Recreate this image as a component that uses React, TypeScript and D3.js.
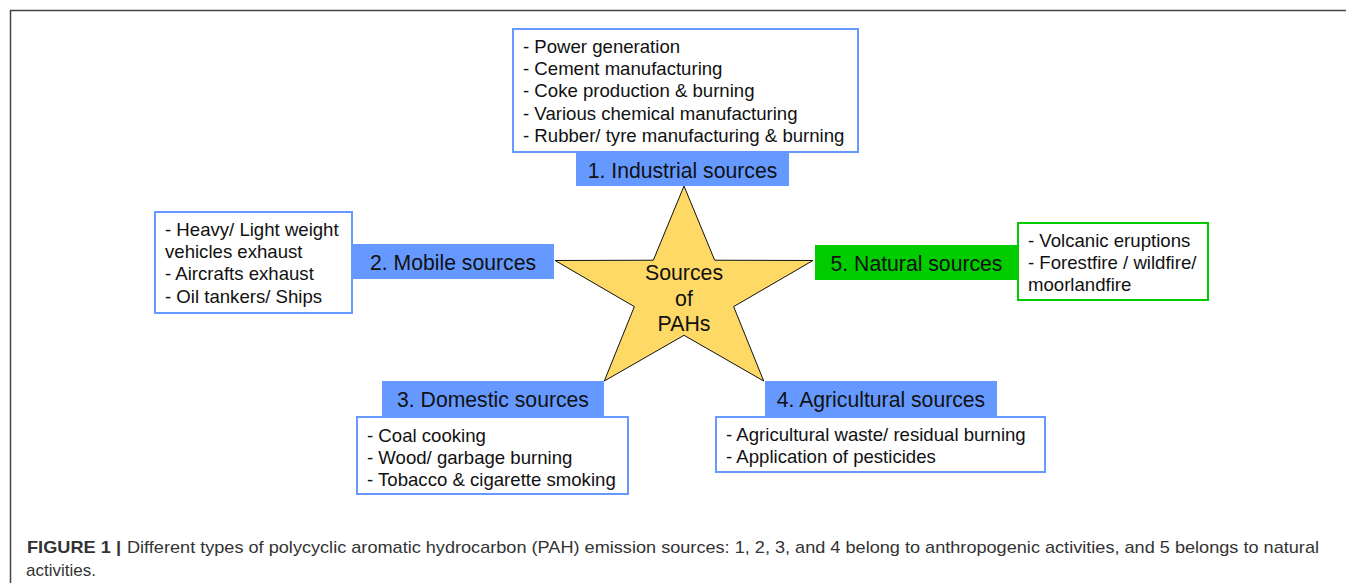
import React from "react";
import * as d3 from "d3";

const categories = [
  "1. Industrial sources",
  "2. Mobile sources",
  "3. Domestic sources",
  "4. Agricultural sources",
  "5. Natural sources",
];

const industrialItems = [
  "- Power generation",
  "- Cement manufacturing",
  "- Coke production & burning",
  "- Various chemical manufacturing",
  "- Rubber/ tyre manufacturing & burning",
];
const mobileItems = [
  "- Heavy/ Light weight",
  "vehicles exhaust",
  "- Aircrafts exhaust",
  "- Oil tankers/ Ships",
];
const domesticItems = [
  "- Coal cooking",
  "- Wood/ garbage burning",
  "- Tobacco & cigarette smoking",
];
const agriculturalItems = [
  "- Agricultural waste/ residual burning",
  "- Application of pesticides",
];
const naturalItems = [
  "- Volcanic eruptions",
  "- Forestfire / wildfire/",
  "moorlandfire",
];
const centerLines = ["Sources", "of", "PAHs"];

const captionBold = "FIGURE 1 |";
const captionLine1 =
  "Different types of polycyclic aromatic hydrocarbon (PAH) emission sources: 1, 2, 3, and 4 belong to anthropogenic activities, and 5 belongs to natural";
const captionLine2 = "activities.";

// layout (positions only)
const BLUE = "#6699ff";
const GREEN = "#00cc00";
const FONT = "'Liberation Sans', Arial, sans-serif";

type Layout = {
  label: { x: number; y: number; w: number; h: number; fill: string };
  box: { x: number; y: number; w: number; h: number; stroke: string };
  items: string[];
  lineStart: number;
};

const layouts: Layout[] = [
  {
    label: { x: 576, y: 152, w: 213, h: 34, fill: BLUE },
    box: { x: 513, y: 29, w: 345, h: 123, stroke: BLUE },
    items: industrialItems,
    lineStart: 46,
  },
  {
    label: { x: 352, y: 244, w: 202, h: 35, fill: BLUE },
    box: { x: 155, y: 212, w: 197, h: 101, stroke: BLUE },
    items: mobileItems,
    lineStart: 229,
  },
  {
    label: { x: 382, y: 381, w: 222, h: 35, fill: BLUE },
    box: { x: 357, y: 417, w: 271, h: 77, stroke: BLUE },
    items: domesticItems,
    lineStart: 435,
  },
  {
    label: { x: 765, y: 381, w: 232, h: 35, fill: BLUE },
    box: { x: 716, y: 417, w: 329, h: 55, stroke: BLUE },
    items: agriculturalItems,
    lineStart: 434,
  },
  {
    label: { x: 815, y: 245, w: 203, h: 35, fill: GREEN },
    box: { x: 1018, y: 223, w: 190, h: 77, stroke: GREEN },
    items: naturalItems,
    lineStart: 240,
  },
];

const LINE_H = 22.4;

function starPath(cx: number, cy: number, rx: number, ry: number, ratio: number) {
  const pts: [number, number][] = [];
  for (let i = 0; i < 10; i++) {
    const a = -Math.PI / 2 + (i * Math.PI) / 5;
    const r = i % 2 === 0 ? 1 : ratio;
    pts.push([cx + rx * r * Math.cos(a), cy + ry * r * Math.sin(a)]);
  }
  return d3.line().curve(d3.curveLinearClosed)(pts) || "";
}

export default function App() {
  const star = starPath(684, 293.8, 135.6, 107.8, 0.385);
  return (
    <svg
      width={1346}
      height={583}
      style={{ position: "absolute", left: 0, top: 0, background: "#fff" }}
      fontFamily={FONT}
    >
      <rect x={0} y={0} width={1346} height={583} fill="#fff" />
      {/* frame */}
      <path d="M10.5,583 L10.5,10.5 L1346,10.5" fill="none" stroke="#444" strokeWidth={1.5} />

      <path d={star} fill="#ffd966" stroke="#111" strokeWidth={1} />
      {centerLines.map((t, i) => (
        <text
          key={t}
          x={684}
          y={273 + i * 25.5}
          textAnchor="middle"
          dominantBaseline="central"
          fontSize={21.3}
          fill="#111"
        >
          {t}
        </text>
      ))}

      {layouts.map((l, i) => (
        <g key={i}>
          <rect
            x={l.box.x}
            y={l.box.y}
            width={l.box.w}
            height={l.box.h}
            fill="#fff"
            stroke={l.box.stroke}
            strokeWidth={2}
          />
          {l.items.map((t, j) => (
            <text
              key={j}
              x={l.box.x + 10}
              y={l.lineStart + j * LINE_H}
              dominantBaseline="central"
              fontSize={18.6}
              fill="#111"
            >
              {t}
            </text>
          ))}
          <rect x={l.label.x} y={l.label.y} width={l.label.w} height={l.label.h} fill={l.label.fill} />
          <text
            x={l.label.x + l.label.w / 2}
            y={l.label.y + l.label.h / 2 + 1}
            textAnchor="middle"
            dominantBaseline="central"
            fontSize={21.2}
            fill="#111"
          >
            {categories[i]}
          </text>
        </g>
      ))}

      <text x={27} y={553} fontSize={17} fontWeight="bold" fill="#333" textLength={94} lengthAdjust="spacingAndGlyphs">
        {captionBold}
      </text>
      <text x={127} y={553} fontSize={17} fill="#333" textLength={1192} lengthAdjust="spacingAndGlyphs">
        {captionLine1}
      </text>
      <text x={26} y={576} fontSize={17} fill="#333" textLength={70} lengthAdjust="spacingAndGlyphs">
        {captionLine2}
      </text>
    </svg>
  );
}
